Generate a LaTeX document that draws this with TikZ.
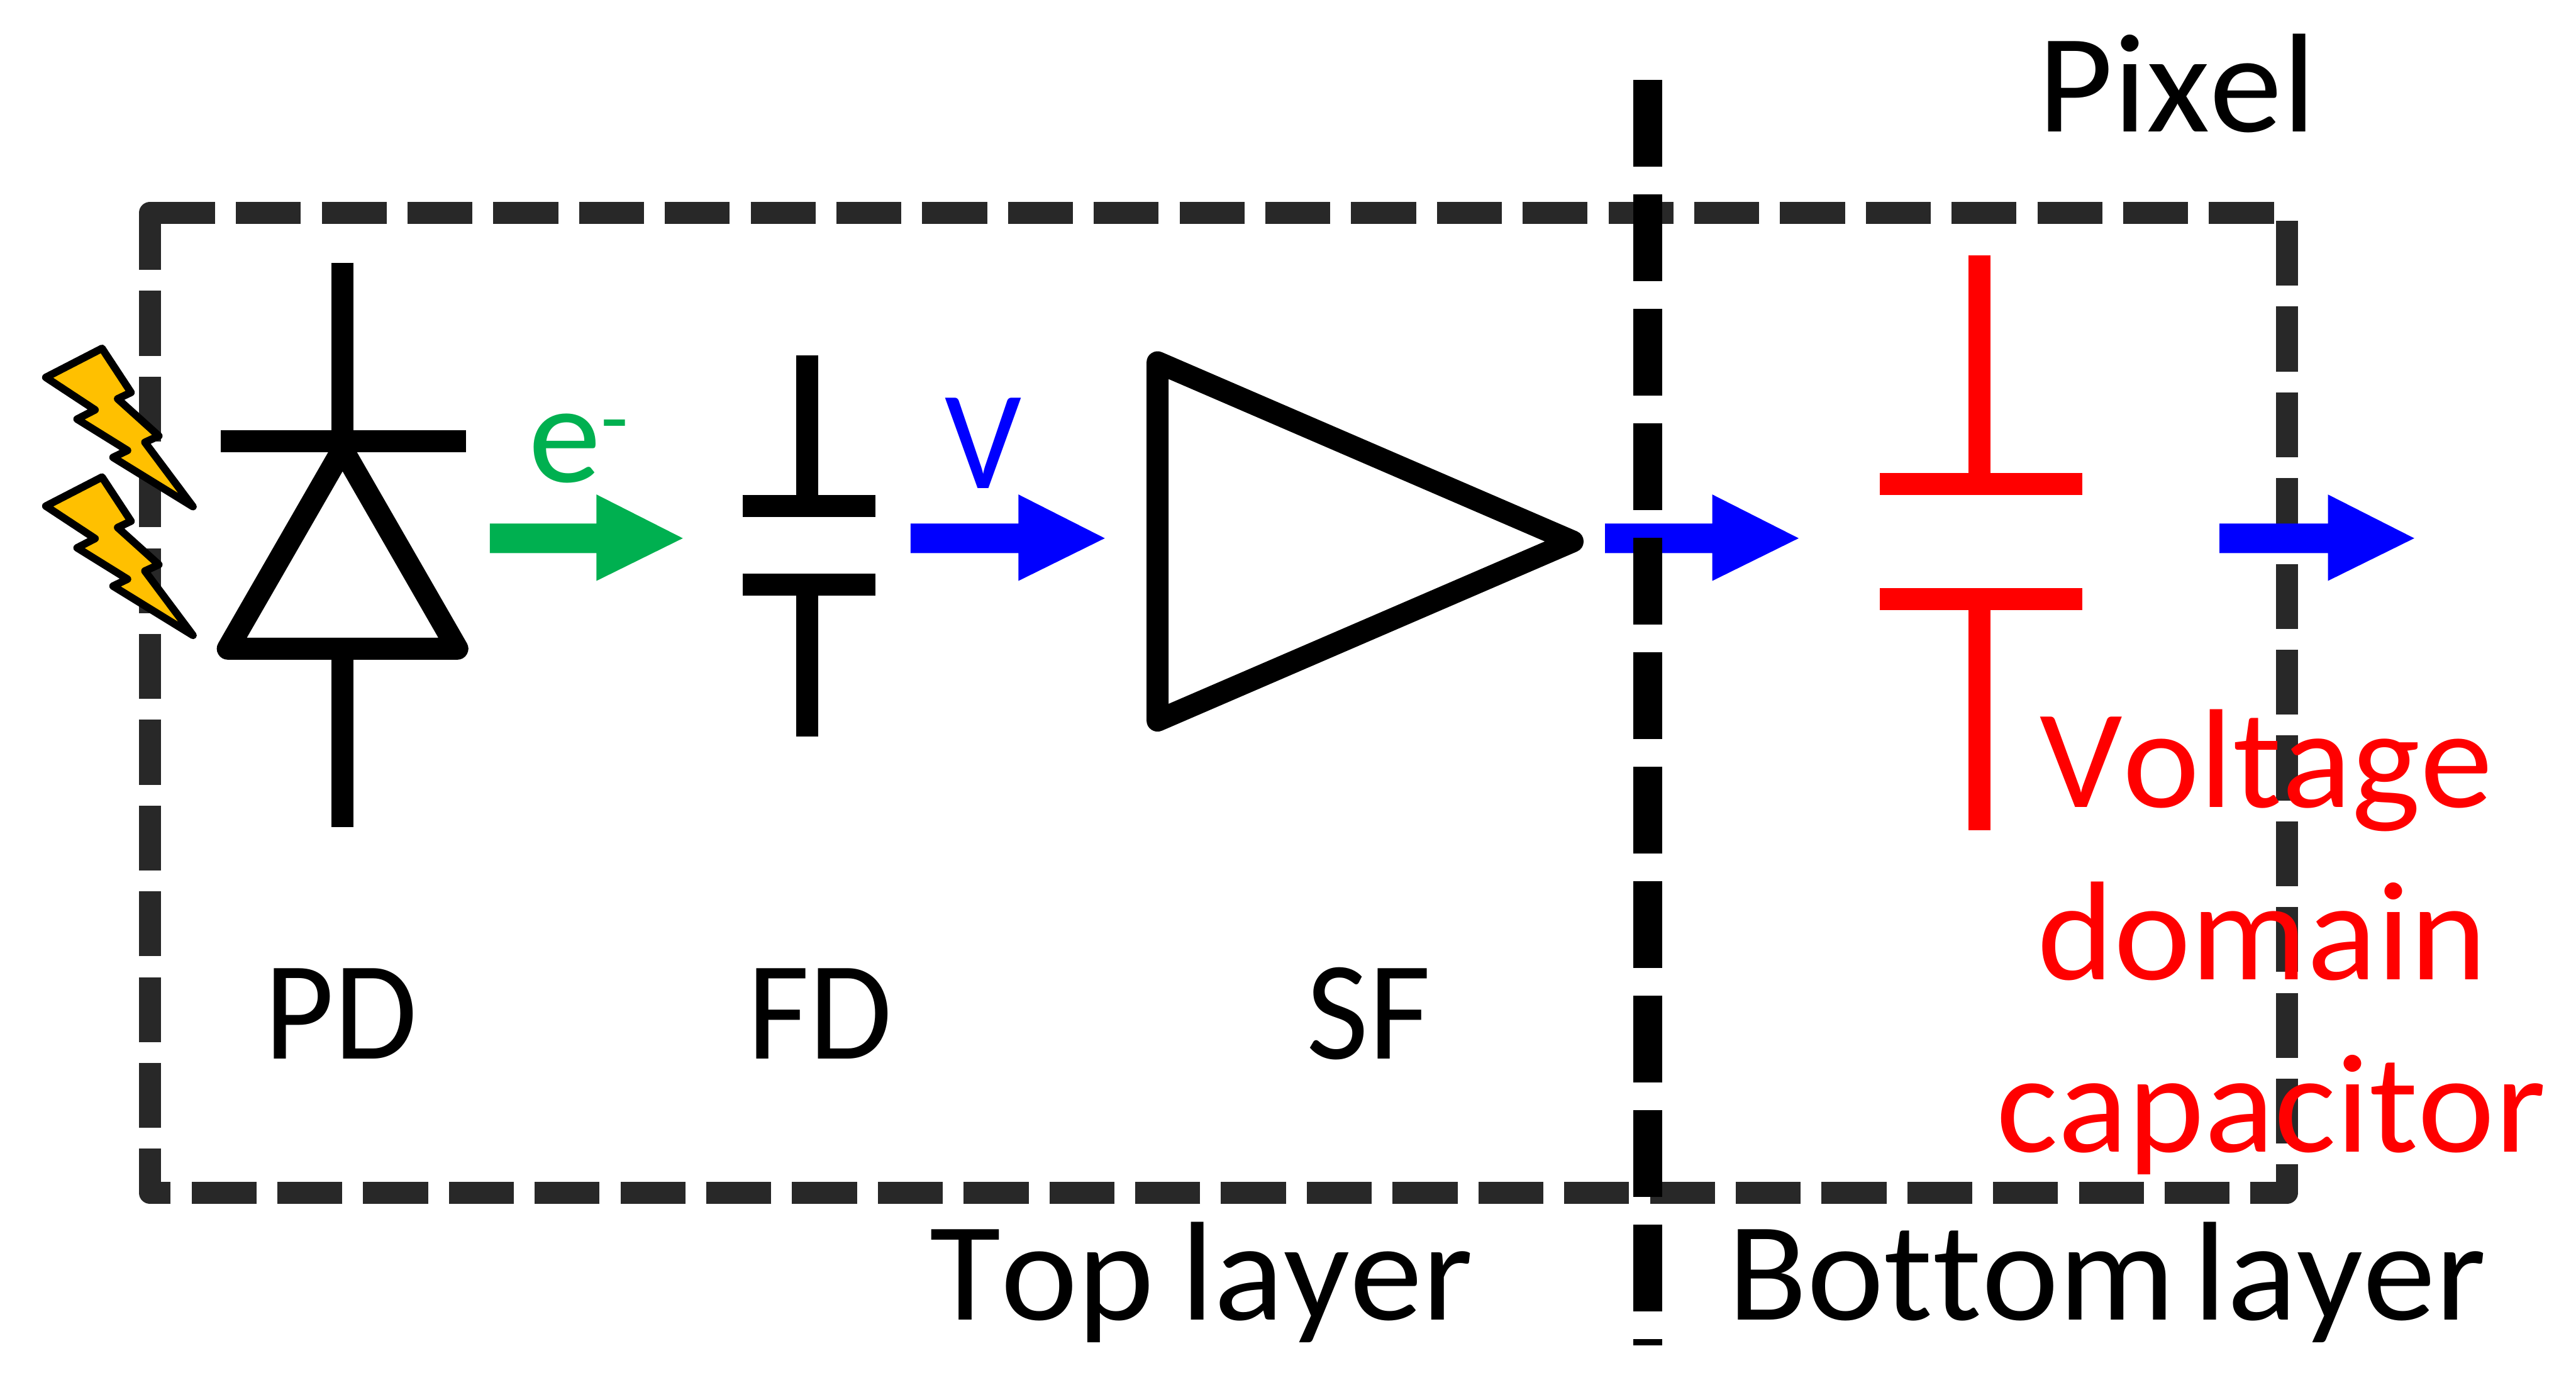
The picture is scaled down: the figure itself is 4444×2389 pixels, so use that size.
\documentclass[tikz,border=0pt]{standalone}
\usepackage{fontspec}
\setmainfont[Kerning=Off,Ligatures=NoCommon]{Carlito}
\newfontfamily\widecarlito[Kerning=Off,Ligatures=NoCommon,FakeStretch=1.035]{Carlito}
\newfontfamily\narrowcarlito[Kerning=Off,Ligatures=NoCommon,FakeStretch=0.96]{Carlito}
\definecolor{frameclr}{HTML}{282828}
\definecolor{boltclr}{HTML}{FFC000}
\definecolor{eclr}{HTML}{00B050}
\definecolor{vclr}{HTML}{0000FF}
\definecolor{capclr}{HTML}{FF0000}
\newcommand{\blockarrow}[3]{% colour, start x, tip x
  \fill[#1] (#2,903) -- ({#3-149},903) -- ({#3-149},853) -- (#3,928.5) -- ({#3-149},1002) -- ({#3-149},954) -- (#2,954) -- cycle;}
\newcommand{\bolt}[1]{%
  \filldraw[boltstyle,yshift=#1] (176,601) -- (226,677) -- (203,688) -- (274,752) -- (250,763) -- (333,874) -- (195,789) -- (220,777) -- (133,723) -- (164,707) -- (79,651) -- cycle;}
\tikzset{
  x=0.1pt,y=-0.1pt,
  framestyle/.style={draw=frameclr,line width=3.8pt,line join=round,dash pattern=on 11.2pt off 3.6pt},
  cornerstyle/.style={draw=frameclr,line width=3.8pt,line join=round},
  dividerstyle/.style={draw=black,line width=5pt,dash pattern=on 14.9pt off 4.85pt},
  boltstyle/.style={draw=black,fill=boltclr,line width=1.3pt,line join=round},
  wirestyle/.style={draw=black,line width=3.8pt},
  symstyle/.style={draw=black,line width=3.8pt,line join=round},
  capstyle/.style={draw=capclr,line width=3.8pt},
  lbl/.style={inner sep=0pt,outer sep=0pt,anchor=base west,font=\widecarlito\fontsize{24.3}{29.7}\selectfont},
  capslbl/.style={inner sep=0pt,outer sep=0pt,anchor=base west,font=\narrowcarlito\fontsize{24.3}{29.7}\selectfont},
}
\begin{document}
\begin{tikzpicture}
\useasboundingbox (0,0) rectangle (4444,2389);
% pixel frame
\path[framestyle] (259,367) -- (3945,367) -- (3945,2058) -- (259,2058) -- cycle;
\path[cornerstyle] (259,380) -- (259,367) -- (272,367);
% lightning
\bolt{0pt}
\bolt{-22.2pt}
% photodiode
\draw[wirestyle] (591,453) -- (591,761);
\draw[wirestyle] (381,761) -- (804,761);
\draw[wirestyle] (591,1119) -- (591,1427);
\draw[symstyle] (591,775) -- (789,1119) -- (393,1119) -- cycle;
% floating diffusion
\draw[wirestyle] (1393,613) -- (1393,873);
\draw[wirestyle] (1281,873) -- (1510,873);
\draw[wirestyle] (1281,1009) -- (1510,1009);
\draw[wirestyle] (1393,1009) -- (1393,1270);
% source follower
\draw[symstyle] (1997,625) -- (2713,934) -- (1997,1243) -- cycle;
% capacitor
\draw[capstyle] (3415,440) -- (3415,835);
\draw[capstyle] (3243,835) -- (3592,835);
\draw[capstyle] (3243,1033) -- (3592,1033);
\draw[capstyle] (3415,1033) -- (3415,1432);
% block arrows
\blockarrow{eclr}{845}{1178}
\blockarrow{vclr}{1571}{1906}
\blockarrow{vclr}{2769}{3103}
\blockarrow{vclr}{3829}{4165}
% divider
\path[dividerstyle] (2843,138) -- (2843,2321);
% labels
\node[lbl] (pixel) at (3516,227) {Pixel};
\node[lbl,text=eclr] (eminus) at (912,832) {e\raisebox{6pt}{\fontsize{15}{15}\selectfont -}};
\node[capslbl,text=vclr] (vlabel) at (1630,842) {V};
\node[capslbl] (pd) at (456,1827) {PD};
\node[capslbl] (fd) at (1289,1827) {FD};
\node[capslbl] (sf) at (2254,1827) {SF};
\node[lbl] (top) at (1604,2277) {Top\hspace{4.6pt}layer};
\node[lbl] (bottom) at (2981,2277) {Bottom\hspace{3.2pt}layer};
\node[inner sep=0pt,outer sep=0pt,align=center,text=capclr,font=\widecarlito\fontsize{24.3}{29.7}\selectfont] (voltage) at (3910,1625) {Voltage\\\hspace*{-1.5pt}domain\\\hspace*{1.6pt}capacitor};
\end{tikzpicture}
\end{document}
